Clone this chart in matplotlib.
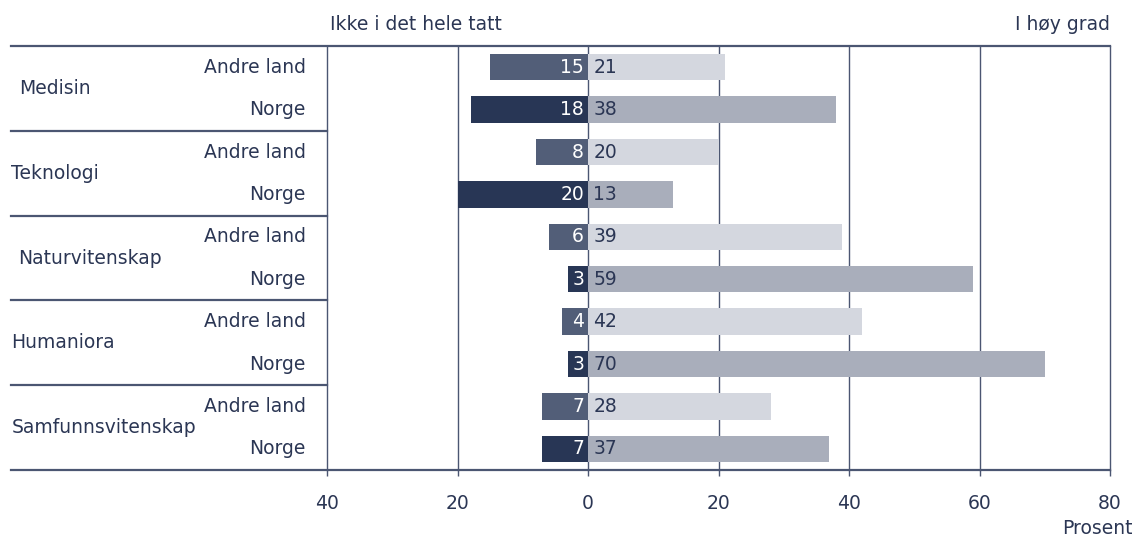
import matplotlib
matplotlib.use('Agg')
import matplotlib.pyplot as plt
import matplotlib.transforms as mtransforms

# Data
fag = ['Medisin', 'Teknologi', 'Naturvitenskap', 'Humaniora', 'Samfunnsvitenskap']
grupper = ['Andre land', 'Norge']
ikke = {'Andre land': [15, 8, 6, 4, 7], 'Norge': [18, 20, 3, 3, 7]}
hoy = {'Andre land': [21, 20, 39, 42, 28], 'Norge': [38, 13, 59, 70, 37]}
ticks = [-40, -20, 0, 20, 40, 60, 80]

TXT = '#2b3654'
LINE = '#4b5672'
neg_col = {'Andre land': '#525e78', 'Norge': '#283655'}
pos_col = {'Andre land': '#d4d7df', 'Norge': '#a9aebb'}

plt.rcParams['font.family'] = ['DejaVu Sans']
plt.rcParams['font.size'] = 13.5

fig = plt.figure(figsize=(11.35, 5.38), dpi=100)
W, H = 1135, 538
ax = fig.add_axes([327 / W, 1 - 470 / H, (1110 - 327) / W, (470 - 46) / H])
blend = mtransforms.blended_transform_factory(ax.transAxes, ax.transData)

# vertikale linjer
for t in ticks:
    ax.axvline(t, color=LINE, lw=1.0, zorder=0, clip_on=False)

# venstre kant for etiketter
x_left = -0.403
fag_dx = {'Medisin': 0.01, 'Naturvitenskap': 0.008}

for i, f in enumerate(fag):
    for j, g in enumerate(grupper):
        y = 2 * i + j
        n = ikke[g][i]
        p = hoy[g][i]
        ax.barh(y, -n, height=0.62, color=neg_col[g], zorder=2)
        ax.barh(y, p, height=0.62, color=pos_col[g], zorder=2)
        ax.text(-0.6, y, str(n), ha='right', va='center', color='white', zorder=3)
        ax.text(0.8, y, str(p), ha='left', va='center', color=TXT, zorder=3)
        ax.text(-0.027, y, g, ha='right', va='center', color=TXT, transform=blend)
    ax.text(x_left + fag_dx.get(f, 0.0), 2 * i + 0.5, f,
            ha='left', va='center', color=TXT, transform=blend)

ax.set_xlim(-40, 80)
ax.set_ylim(9.5, -0.5)

# horisontale skillelinjer
for k in range(6):
    yb = 2 * k - 0.5
    x1 = 1.0 if k in (0, 5) else 0.0
    ax.plot([x_left, x1], [yb, yb], color=LINE, lw=1.6, transform=blend, clip_on=False, zorder=4)

for s in ax.spines.values():
    s.set_visible(False)
ax.set_yticks([])
ax.set_xticks(ticks)
ax.set_xticklabels([str(abs(t)) for t in ticks], color=TXT)
ax.tick_params(axis='x', direction='out', length=4, width=1, color=LINE, pad=13)

fig.text(330 / W, 1 - 24 / H, 'Ikke i det hele tatt', ha='left', va='center', color=TXT)
fig.text(1110 / W, 1 - 24 / H, 'I høy grad', ha='right', va='center', color=TXT)
fig.text(1133 / W, 1 - 528 / H, 'Prosent', ha='right', va='center', color=TXT)

fig.savefig('out.png', dpi=100)
